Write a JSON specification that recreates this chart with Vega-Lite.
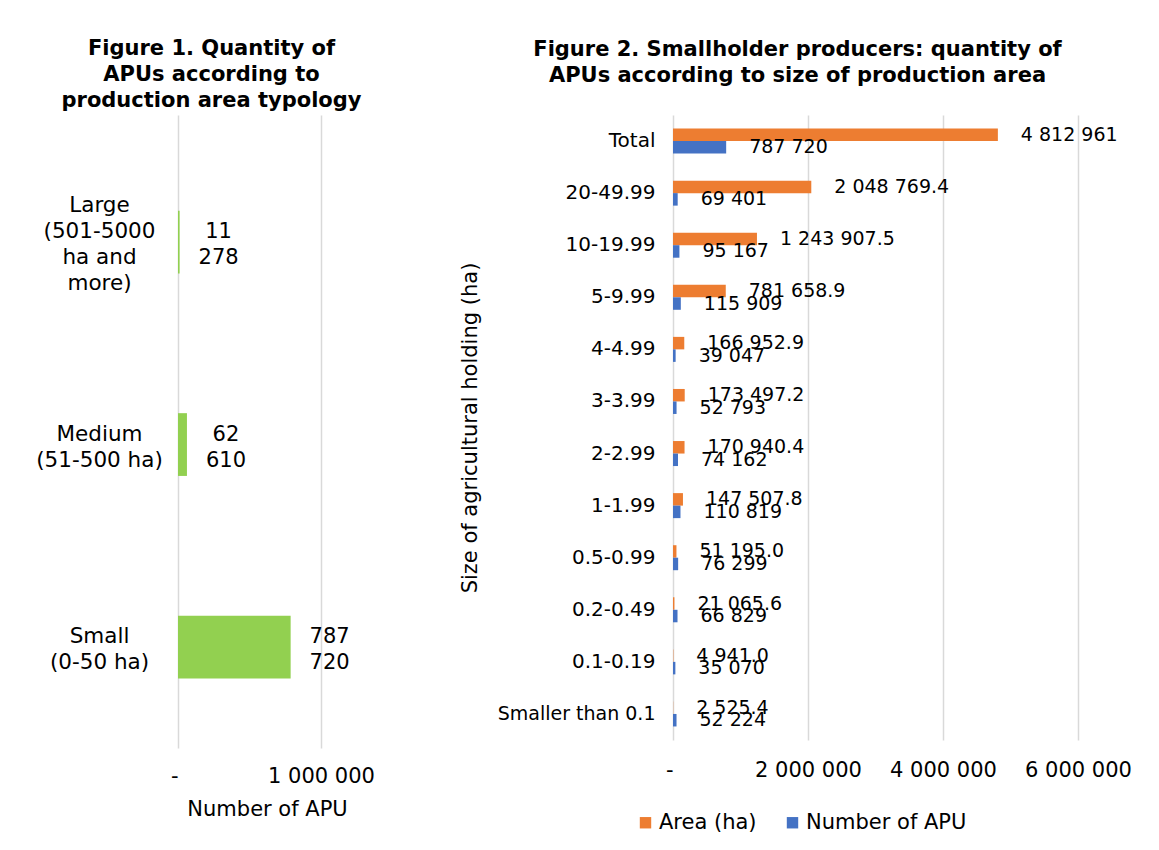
{
  "$schema": "https://vega.github.io/schema/vega-lite/v6.json",
  "background": "white",
  "padding": {"left": 35, "top": 38, "right": 0, "bottom": 0},
  "spacing": 84,
  "config": {
    "locale": {"number": {"decimal": ".", "thousands": " ", "grouping": [3], "currency": ["", ""]}},
    "font": "DejaVu Sans",
    "view": {"stroke": null},
    "axis": {"domain": false, "ticks": false, "tickSize": 0, "gridColor": "#d9d9d9", "gridWidth": 1.5, "labelColor": "#000000", "titleColor": "#000000", "titleFontWeight": "normal"},
    "title": {"fontSize": 21, "fontWeight": "bold", "color": "#000000", "lineHeight": 26}
  },
  "hconcat": [
    {
      "title": {"text": ["Figure 1. Quantity of", "APUs according to", "production area typology"], "anchor": "middle", "dx": -38, "offset": 4},
      "width": 143,
      "height": 633,
      "data": {"values": [
        {"type": "Large (501-5000 ha and more)", "apu": 11278},
        {"type": "Medium (51-500 ha)", "apu": 62610},
        {"type": "Small (0-50 ha)", "apu": 787720}
      ]},
      "encoding": {
        "y": {"field": "type", "type": "nominal", "sort": null,
          "scale": {"paddingInner": 0.69, "paddingOuter": 0.408, "align": 0.579},
          "axis": {"title": null, "labelFontSize": 21.5, "labelLineHeight": 26, "labelAlign": "center", "labelBaseline": "middle", "labelPadding": 79, "labelOffset": -36,
            "labelExpr": "datum.value == 'Large (501-5000 ha and more)' ? ['Large', '(501-5000', 'ha and', 'more)'] : datum.value == 'Medium (51-500 ha)' ? ['', 'Medium', '(51-500 ha)', ''] : ['', 'Small', '(0-50 ha)', '']"}},
        "x": {"field": "apu", "type": "quantitative",
          "scale": {"domain": [0, 1000000], "nice": false},
          "axis": {"values": [0, 1000000], "grid": true, "format": ",d", "labelExpr": "datum.value == 0 ? '-' : datum.label",
            "labelAlign": {"condition": {"test": "datum.value == 0", "value": "right"}, "value": "center"},
            "labelFontSize": 21, "labelPadding": 17, "title": "Number of APU", "titleFontSize": 21, "titlePadding": 12, "titleX": 89}}
      },
      "layer": [
        {"mark": {"type": "bar", "color": "#92D050"}},
        {"mark": {"type": "text", "align": "center", "baseline": "middle", "dx": 39, "dy": -10, "lineBreak": " ", "lineHeight": 26, "fontSize": 21, "color": "#000000"},
          "encoding": {"text": {"field": "apu", "type": "quantitative", "format": ",d"}}}
      ]
    },
    {
      "title": {"text": ["Figure 2. Smallholder producers: quantity of", "APUs according to size of production area"], "anchor": "middle", "dx": -78, "offset": 29},
      "width": 405,
      "height": 625,
      "data": {"values": [
        {"size": "Total", "series": "Area (ha)", "value": 4812961},
        {"size": "Total", "series": "Number of APU", "value": 787720},
        {"size": "20-49.99", "series": "Area (ha)", "value": 2048769.4},
        {"size": "20-49.99", "series": "Number of APU", "value": 69401},
        {"size": "10-19.99", "series": "Area (ha)", "value": 1243907.5},
        {"size": "10-19.99", "series": "Number of APU", "value": 95167},
        {"size": "5-9.99", "series": "Area (ha)", "value": 781658.9},
        {"size": "5-9.99", "series": "Number of APU", "value": 115909},
        {"size": "4-4.99", "series": "Area (ha)", "value": 166952.9},
        {"size": "4-4.99", "series": "Number of APU", "value": 39047},
        {"size": "3-3.99", "series": "Area (ha)", "value": 173497.2},
        {"size": "3-3.99", "series": "Number of APU", "value": 52793},
        {"size": "2-2.99", "series": "Area (ha)", "value": 170940.4},
        {"size": "2-2.99", "series": "Number of APU", "value": 74162},
        {"size": "1-1.99", "series": "Area (ha)", "value": 147507.8},
        {"size": "1-1.99", "series": "Number of APU", "value": 110819},
        {"size": "0.5-0.99", "series": "Area (ha)", "value": 51195.0},
        {"size": "0.5-0.99", "series": "Number of APU", "value": 76299},
        {"size": "0.2-0.49", "series": "Area (ha)", "value": 21065.6},
        {"size": "0.2-0.49", "series": "Number of APU", "value": 66829},
        {"size": "0.1-0.19", "series": "Area (ha)", "value": 4941.0},
        {"size": "0.1-0.19", "series": "Number of APU", "value": 35070},
        {"size": "Smaller than 0.1", "series": "Area (ha)", "value": 2525.4},
        {"size": "Smaller than 0.1", "series": "Number of APU", "value": 52224}
      ]},
      "encoding": {
        "y": {"field": "size", "type": "nominal", "sort": null,
          "scale": {"paddingInner": 0.52, "paddingOuter": 0.26},
          "axis": {"title": "Size of agricultural holding (ha)", "titleFontSize": 21, "titlePadding": 17,
            "labelFontSize": {"condition": {"test": "datum.value == 'Smaller than 0.1'", "value": 19}, "value": 20},
            "labelPadding": 18}},
        "yOffset": {"field": "series", "type": "nominal", "sort": ["Area (ha)", "Number of APU"]},
        "x": {"field": "value", "type": "quantitative",
          "scale": {"domain": [0, 6000000], "nice": false},
          "axis": {"values": [0, 2000000, 4000000, 6000000], "grid": true, "title": null, "format": ",d",
            "labelExpr": "datum.value == 0 ? '-' : datum.label",
            "labelAlign": {"condition": {"test": "datum.value == 0", "value": "right"}, "value": "center"},
            "labelFontSize": 21, "labelPadding": 19}}
      },
      "layer": [
        {"mark": {"type": "bar"},
          "encoding": {"color": {"field": "series", "type": "nominal",
            "scale": {"domain": ["Area (ha)", "Number of APU"], "range": ["#ED7D31", "#4472C4"]},
            "legend": {"title": null, "orient": "none", "legendX": 457, "legendY": 697, "direction": "horizontal",
              "labelFontSize": 21, "labelColor": "#000000", "labelLimit": 400, "symbolType": "square", "symbolSize": 130, "symbolStrokeWidth": 0,
              "columnPadding": 25, "labelOffset": 3}}}},
        {"transform": [{"filter": "datum.series == 'Number of APU' || datum.size == 'Total'"}],
          "mark": {"type": "text", "align": "left", "baseline": "middle", "dx": 23, "fontSize": 19, "color": "#000000"},
          "encoding": {"text": {"field": "value", "type": "quantitative", "format": ",d"}}},
        {"transform": [{"filter": "datum.series == 'Area (ha)' && datum.size != 'Total'"}],
          "mark": {"type": "text", "align": "left", "baseline": "middle", "dx": 23, "fontSize": 19, "color": "#000000"},
          "encoding": {"text": {"field": "value", "type": "quantitative", "format": ",.1f"}}}
      ]
    }
  ]
}
